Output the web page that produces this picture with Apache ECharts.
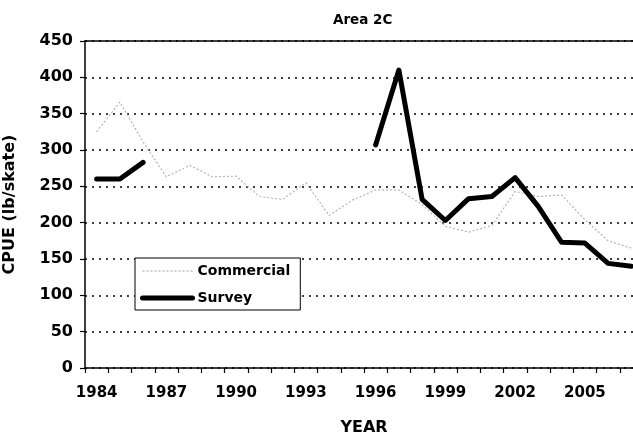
<!DOCTYPE html>
<html>
<head>
<meta charset="utf-8">
<style>html,body{margin:0;padding:0;background:#fff;}#c{width:633px;height:440px;}</style>
<script src="https://cdn.jsdelivr.net/npm/echarts@6/dist/echarts.min.js"></script>
</head>
<body>
<div id="c"></div>
<script>
var years = ['1984','1985','1986','1987','1988','1989','1990','1991','1992','1993','1994','1995','1996','1997','1998','1999','2000','2001','2002','2003','2004','2005','2006','2007'];
var commercial = [325,366,311,263,279,263,264,236,232,255,210,231,245,245,225,195,187,196,243,236,238,204,175,165];
var survey = [260,260,283,null,null,null,null,null,null,null,null,null,307,410,232,203,233,236,262,222,173,172,144,140];
var yTicks = [0,50,100,150,200,250,300,350,400,450];

var FONT = "'DejaVu Sans', 'Liberation Sans', Arial, sans-serif";
var chart = echarts.init(document.getElementById('c'), null, {renderer:'canvas'});
chart.setOption({
  animation: false,
  backgroundColor: '#fff',
  title: {
    text: 'Area 2C', left: 328, top: 8,
    textStyle: {fontFamily: FONT, fontWeight: 'bold', fontSize: 13.5, color: '#000'}
  },
  legend: {
    orient: 'vertical', left: 135, top: 258,
    padding: [6, 10, 5, 5], itemGap: 13,
    itemWidth: 50, itemHeight: 16,
    borderColor: '#000', borderWidth: 1, backgroundColor: '#fff',
    itemStyle: {opacity: 0},
    textStyle: {fontFamily: FONT, fontWeight: 'bold', fontSize: 14, color: '#000'},
    data: [
      {name: 'Commercial', lineStyle: {width: 1.2}},
      {name: 'Survey', lineStyle: {width: 5}}
    ]
  },
  grid: {left: 85, top: 41, right: -10, bottom: 72, containLabel: false, outerBoundsMode: 'none'},
  xAxis: [{
    type: 'category', data: years, boundaryGap: true,
    name: 'YEAR', nameLocation: 'middle', nameGap: 52,
    nameTextStyle: {fontFamily: FONT, fontWeight: 'bold', fontSize: 16, color: '#000'},
    axisLine: {show: true, lineStyle: {color: '#000', width: 1.5}},
    axisTick: {show: true, interval: 0, length: 5, lineStyle: {color: '#000', width: 1.2}},
    axisLabel: {interval: 2, margin: 18, fontFamily: FONT, fontWeight: 'bold', fontSize: 15, color: '#000'},
    splitLine: {show: false}
  }, {
    type: 'category', data: years, position: 'top',
    axisLine: {show: true, lineStyle: {color: '#000', width: 1.5}},
    axisTick: {show: false}, axisLabel: {show: false}, splitLine: {show: false}
  }],
  yAxis: {
    type: 'value', min: yTicks[0], max: yTicks[yTicks.length-1], interval: 50,
    name: 'CPUE (lb/skate)', nameLocation: 'middle', nameGap: 67,
    nameTextStyle: {fontFamily: FONT, fontWeight: 'bold', fontSize: 16, color: '#000'},
    axisLine: {show: true, lineStyle: {color: '#000', width: 1.5}},
    axisTick: {show: true, length: 5, lineStyle: {color: '#000', width: 1.2}},
    axisLabel: {margin: 12, fontFamily: FONT, fontWeight: 'bold', fontSize: 16, color: '#000'},
    splitLine: {show: true, lineStyle: {color: '#000', width: 1.6, type: [2, 5]}}
  },
  series: [{
    name: 'Commercial', type: 'line', data: commercial, symbol: 'none',
    lineStyle: {color: '#b4b4b4', width: 1.2, type: [2, 2]},
    itemStyle: {color: '#b4b4b4'}, z: 2
  }, {
    name: 'Survey', type: 'line', data: survey, symbol: 'none', connectNulls: false,
    lineStyle: {color: '#000', width: 5, cap: 'round', join: 'round'},
    itemStyle: {color: '#000'}, z: 3
  }]
});
</script>
</body>
</html>
